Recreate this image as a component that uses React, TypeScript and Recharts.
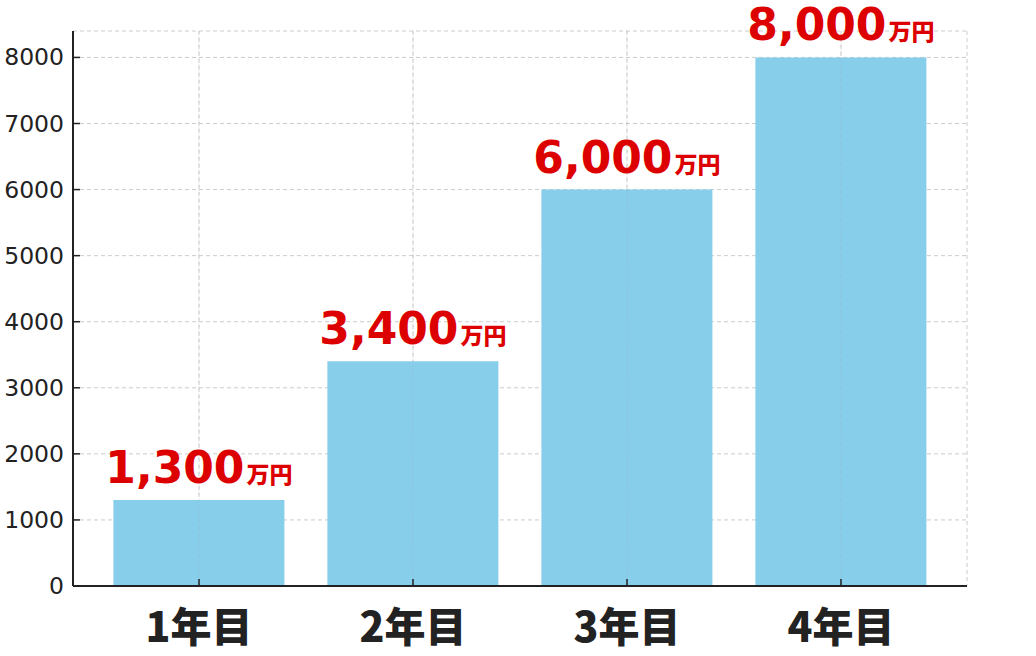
import React from "react";
import { BarChart, Bar, XAxis, YAxis, CartesianGrid, LabelList, ReferenceLine } from "recharts";

const categories = ["1年目", "2年目", "3年目", "4年目"];
const values = [1300, 3400, 6000, 8000];
const yTicks = [0, 1000, 2000, 3000, 4000, 5000, 6000, 7000, 8000];
const unit = "万円";

const data = categories.map((c, i) => ({ name: c, value: values[i] }));

const YTick = (props: any) => {
  const { x, y, payload } = props;
  return (
    <g>
      <line x1={x} x2={x + 7} y1={y} y2={y} stroke="#222" strokeWidth={1.5} />
      <text x={x - 9} y={y + 8} textAnchor="end" fontFamily="DejaVu Sans" fontSize={23.5} fill="#222">
        {payload.value}
      </text>
    </g>
  );
};

const XTick = (props: any) => {
  const { x, y, payload } = props;
  return (
    <g>
      <line x1={x} x2={x} y1={y} y2={y - 7} stroke="#222" strokeWidth={1.5} />
      <text x={x} y={y + 56} textAnchor="middle" fontFamily="'Noto Sans CJK JP'" fontWeight={900} fontSize={41} fill="#222">
        {payload.value}
      </text>
    </g>
  );
};

const ValueLabel = (props: any) => {
  const { x, y, width, value } = props;
  const cx = x + width / 2;
  return (
    <text x={cx} y={y - 17} textAnchor="middle" fill="#dc0000" fontWeight="bold">
      <tspan fontSize={44} fontFamily="'DejaVu Sans'">{Number(value).toLocaleString("en-US")}</tspan>
      <tspan fontSize={23} dx={2} fontFamily="'Noto Sans CJK JP'" fontWeight={900}>{unit}</tspan>
    </text>
  );
};

export default function App() {
  return (
    <div style={{ position: "absolute", left: 0, top: 0, background: "#fff" }}>
      <BarChart
        width={1036}
        height={656}
        data={data}
        margin={{ top: 31, right: 69, bottom: 0, left: 0 }}
        barCategoryGap="10%"
      >
        <CartesianGrid stroke="#cccccc" strokeDasharray="4 3" vertical={true} />
        <XAxis
          dataKey="name"
          height={70}
          padding={{ left: 19, right: 19 }}
          axisLine={{ stroke: "#222", strokeWidth: 2 }}
          tickLine={false}
          tickSize={0}
          tickMargin={0}
          tick={<XTick />}
          interval={0}
        />
        <YAxis
          width={73}
          domain={[0, 8400]}
          ticks={yTicks}
          axisLine={{ stroke: "#222", strokeWidth: 2 }}
          tickLine={false}
          tickSize={0}
          tickMargin={0}
          tick={<YTick />}
          interval={0}
        />
        <Bar dataKey="value" fill="#87CEEB" isAnimationActive={false}>
          <LabelList dataKey="value" content={<ValueLabel />} />
        </Bar>
        {categories.map((c) => (
          <ReferenceLine key={c} x={c} stroke="#aaaaaa" strokeOpacity={0.25} strokeDasharray="4 3" />
        ))}
      </BarChart>
    </div>
  );
}
